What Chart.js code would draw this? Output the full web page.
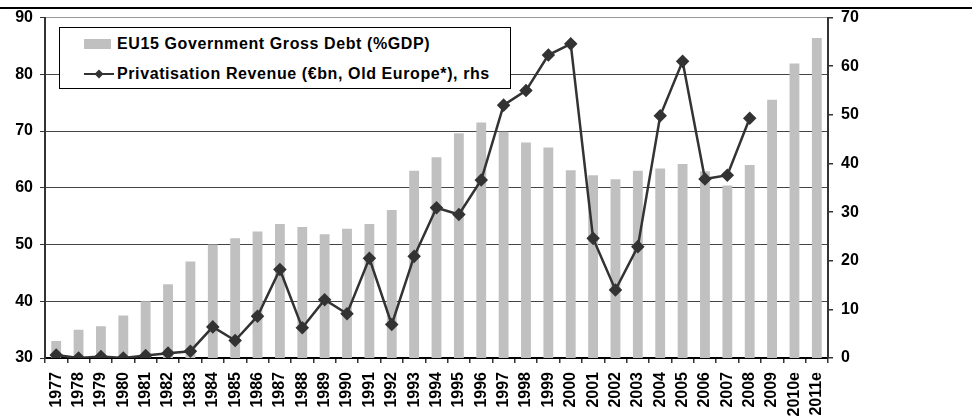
<!DOCTYPE html>
<html>
<head>
<meta charset="utf-8">
<script src="https://cdn.jsdelivr.net/npm/chart.js@4/dist/chart.umd.min.js"></script>
<style>
  html, body { margin: 0; padding: 0; background: #fff; }
  #wrap { position: relative; width: 972px; height: 419px; overflow: hidden; font-family: "Liberation Sans", Arial, sans-serif; }
  #topline { position: absolute; left: 0; top: 7px; width: 972px; height: 2px; background: #000; }
  #legend { position: absolute; left: 59px; top: 27px; width: 450px; height: 60px; border: 1px solid #000; background: #fff; font-weight: bold; font-size: 16px; color: #000; }
  .row { position: absolute; left: 24px; height: 20px; line-height: 20px; white-space: nowrap; }
  .txt { letter-spacing: 0.6px; }
  .sw { display: inline-block; width: 27px; height: 10px; background: #c0c0c0; vertical-align: middle; margin-right: 6px; position: relative; top: -1px; }
  .ln { display: inline-block; width: 30px; height: 12px; vertical-align: middle; margin-right: 3px; position: relative; top: -1px; }
</style>
</head>
<body>
<div id="wrap">
  <canvas id="c" width="972" height="419"></canvas>
  <div id="topline"></div>
  <div id="legend">
    <div class="row" style="top:6px"><span class="sw"></span><span class="txt">EU15 Government Gross Debt (%GDP)</span></div>
    <div class="row" style="top:36px"><svg class="ln" viewBox="0 0 30 12"><line x1="0" y1="6" x2="30" y2="6" stroke="#333" stroke-width="2"/><polygon points="15,1.5 19.5,6 15,10.5 10.5,6" fill="#333"/></svg><span class="txt">Privatisation Revenue (€bn, Old Europe*), rhs</span></div>
  </div>
</div>
<script>
const years = ['1977','1978','1979','1980','1981','1982','1983','1984','1985','1986','1987','1988','1989','1990','1991','1992','1993','1994','1995','1996','1997','1998','1999','2000','2001','2002','2003','2004','2005','2006','2007','2008','2009','2010e','2011e'];
const debtPctGDP = [33,35,35.6,37.5,40,43,47,50,51.1,52.3,53.6,53.1,51.8,52.8,53.6,56.1,63,65.4,69.6,71.5,69.9,68,67.1,63.1,62.2,61.5,63,63.4,64.2,62.9,60.4,64,75.5,81.9,86.4];
const privRevenue = [0.6,0,0.3,0,0.5,1.0,1.4,6.4,3.6,8.6,18.2,6.2,12.0,9.1,20.5,6.9,20.9,30.9,29.5,36.6,52.0,55.0,62.3,64.6,24.6,14.0,22.9,49.8,61.0,36.8,37.6,49.3,null,null,null];
const leftTicks = [30,40,50,60,70,80,90];
const rightTicks = [0,10,20,30,40,50,60,70];

const font = { family: '"Liberation Sans", Arial, sans-serif', size: 16, weight: 'bold' };

new Chart(document.getElementById('c'), {
  data: {
    labels: years,
    datasets: [
      {
        type: 'line',
        label: 'Privatisation Revenue (€bn, Old Europe*), rhs',
        data: privRevenue,
        yAxisID: 'y1',
        borderColor: '#333',
        backgroundColor: '#333',
        borderWidth: 2.5,
        pointStyle: 'rectRot',
        pointRadius: 5,
        pointBackgroundColor: '#333',
        pointBorderColor: '#333',
        tension: 0,
        order: 0
      },
      {
        type: 'bar',
        label: 'EU15 Government Gross Debt (%GDP)',
        data: debtPctGDP,
        yAxisID: 'y',
        backgroundColor: '#c0c0c0',
        categoryPercentage: 1,
        barPercentage: 0.44,
        order: 1
      }
    ]
  },
  options: {
    responsive: false,
    animation: false,
    layout: { padding: { top: 17, left: 0, right: 0, bottom: 0 } },
    plugins: { legend: { display: false }, tooltip: { enabled: false } },
    scales: {
      x: {
        type: 'category',
        offset: true,
        grid: { offset: true, drawOnChartArea: false, tickLength: 5, tickColor: '#333', lineWidth: 1.5 },
        border: { color: '#000', width: 2 },
        ticks: { color: '#000', font: font, minRotation: 90, maxRotation: 90, padding: 9, autoSkip: false },
        afterFit: s => { s.height = 61; }
      },
      y: {
        position: 'left',
        min: 30, max: 90,
        afterBuildTicks: s => { s.ticks = leftTicks.map(v => ({ value: v })); },
        grid: {
          color: c => (c.tick && c.tick.value === 90) ? '#999' : '#444',
          lineWidth: 1,
          tickLength: 5,
          tickColor: '#333'
        },
        border: { color: '#333', width: 2 },
        ticks: { color: '#000', font: font, padding: 7 },
        afterFit: s => { s.width = 45; }
      },
      y1: {
        position: 'right',
        min: 0, max: 70,
        afterBuildTicks: s => { s.ticks = rightTicks.map(v => ({ value: v })); },
        grid: { drawOnChartArea: false, tickLength: 5, tickColor: '#333', lineWidth: 1.5 },
        border: { color: '#333', width: 2 },
        ticks: { color: '#000', font: font, padding: 8 },
        afterFit: s => { s.width = 144; }
      }
    }
  }
});
</script>
</body>
</html>
